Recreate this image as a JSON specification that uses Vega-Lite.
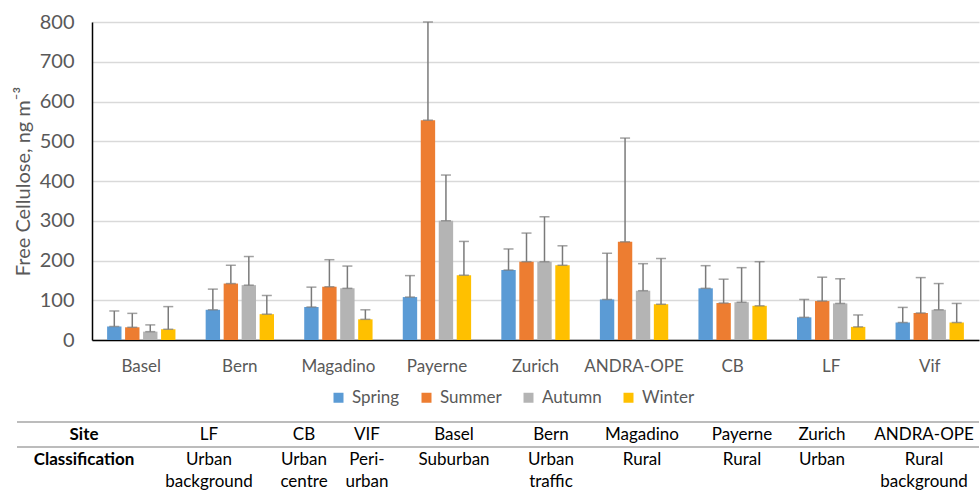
{
  "$schema": "https://vega.github.io/schema/vega-lite/v6.json",
  "padding": {"left": 13, "top": 12, "right": 0, "bottom": 0},
  "config": {
    "font": "Lato",
    "view": {"stroke": null},
    "axisY": {"labelFontSize": 20, "labelColor": "#595959", "labelPadding": 18, "ticks": false, "tickSize": 0, "domainColor": "#000000", "domainWidth": 1.5, "gridColor": "#d9d9d9", "gridWidth": 1.5, "titleFontSize": 20, "titleFontWeight": "normal", "titleColor": "#595959", "titlePadding": 6, "labelOverlap": false}
  },
  "spacing": 15,
  "resolve": {"scale": {"color": "independent"}, "legend": {"color": "independent"}},
  "vconcat": [
    {
      "width": 887,
      "height": 318,
      "data": {"values": [
        {"site": "Basel", "season": "Spring", "value": 34, "err": 73},
        {"site": "Basel", "season": "Summer", "value": 32, "err": 67},
        {"site": "Basel", "season": "Autumn", "value": 21, "err": 38},
        {"site": "Basel", "season": "Winter", "value": 27, "err": 84},
        {"site": "Bern", "season": "Spring", "value": 76, "err": 128},
        {"site": "Bern", "season": "Summer", "value": 142, "err": 188},
        {"site": "Bern", "season": "Autumn", "value": 138, "err": 210},
        {"site": "Bern", "season": "Winter", "value": 65, "err": 112},
        {"site": "Magadino", "season": "Spring", "value": 83, "err": 133},
        {"site": "Magadino", "season": "Summer", "value": 134, "err": 202},
        {"site": "Magadino", "season": "Autumn", "value": 130, "err": 186},
        {"site": "Magadino", "season": "Winter", "value": 52, "err": 76},
        {"site": "Payerne", "season": "Spring", "value": 108, "err": 162},
        {"site": "Payerne", "season": "Summer", "value": 553, "err": 800},
        {"site": "Payerne", "season": "Autumn", "value": 300, "err": 415},
        {"site": "Payerne", "season": "Winter", "value": 163, "err": 248},
        {"site": "Zurich", "season": "Spring", "value": 176, "err": 229},
        {"site": "Zurich", "season": "Summer", "value": 197, "err": 269},
        {"site": "Zurich", "season": "Autumn", "value": 197, "err": 310},
        {"site": "Zurich", "season": "Winter", "value": 188, "err": 237},
        {"site": "ANDRA-OPE", "season": "Spring", "value": 102, "err": 218},
        {"site": "ANDRA-OPE", "season": "Summer", "value": 247, "err": 508},
        {"site": "ANDRA-OPE", "season": "Autumn", "value": 124, "err": 192},
        {"site": "ANDRA-OPE", "season": "Winter", "value": 90, "err": 205},
        {"site": "CB", "season": "Spring", "value": 130, "err": 187},
        {"site": "CB", "season": "Summer", "value": 93, "err": 153},
        {"site": "CB", "season": "Autumn", "value": 95, "err": 182},
        {"site": "CB", "season": "Winter", "value": 86, "err": 197},
        {"site": "LF", "season": "Spring", "value": 57, "err": 102},
        {"site": "LF", "season": "Summer", "value": 98, "err": 158},
        {"site": "LF", "season": "Autumn", "value": 92, "err": 154},
        {"site": "LF", "season": "Winter", "value": 33, "err": 63},
        {"site": "Vif", "season": "Spring", "value": 44, "err": 82},
        {"site": "Vif", "season": "Summer", "value": 68, "err": 157},
        {"site": "Vif", "season": "Autumn", "value": 76, "err": 142},
        {"site": "Vif", "season": "Winter", "value": 44, "err": 92}
      ]},
      "encoding": {
        "x": {
          "field": "site", "type": "nominal",
          "sort": ["Basel", "Bern", "Magadino", "Payerne", "Zurich", "ANDRA-OPE", "CB", "LF", "Vif"],
          "scale": {"paddingInner": 0.27, "paddingOuter": 0.135},
          "axis": {"title": null, "labelAngle": 0, "labelFontSize": 17, "labelColor": "#595959", "labelPadding": 18, "ticks": false, "tickSize": 0, "domainColor": "#000000", "domainWidth": 1.5, "grid": false}
        },
        "xOffset": {
          "field": "season", "type": "nominal",
          "sort": ["Spring", "Summer", "Autumn", "Winter"],
          "scale": {"paddingInner": 0.2, "paddingOuter": 0.1}
        }
      },
      "layer": [
        {
          "mark": {"type": "bar"},
          "encoding": {
            "y": {
              "field": "value", "type": "quantitative",
              "title": "Free Cellulose, ng m⁻³",
              "scale": {"domain": [0, 800], "nice": false},
              "axis": {"values": [0, 100, 200, 300, 400, 500, 600, 700, 800]}
            },
            "color": {
              "field": "season", "type": "nominal",
              "sort": ["Spring", "Summer", "Autumn", "Winter"],
              "scale": {"domain": ["Spring", "Summer", "Autumn", "Winter"], "range": ["#5B9BD5", "#ED7D31", "#B4B4B4", "#FFC000"]},
              "legend": {"orient": "none", "legendX": 238, "legendY": 367, "direction": "horizontal", "title": null, "symbolType": "square", "symbolSize": 100, "symbolStrokeWidth": 0, "labelFontSize": 17, "labelColor": "#595959", "columnPadding": 18, "labelOffset": 5}
            }
          }
        },
        {
          "mark": {"type": "rule", "color": "#7a7a7a", "strokeWidth": 1.5},
          "encoding": {
            "y": {"field": "value", "type": "quantitative", "title": "Free Cellulose, ng m⁻³", "axis": {"values": [0, 100, 200, 300, 400, 500, 600, 700, 800]}},
            "y2": {"field": "err"}
          }
        },
        {
          "mark": {"type": "tick", "color": "#7a7a7a", "size": 10, "thickness": 1.5},
          "encoding": {
            "y": {"field": "err", "type": "quantitative", "title": "Free Cellulose, ng m⁻³", "axis": {"values": [0, 100, 200, 300, 400, 500, 600, 700, 800]}}
          }
        },
        {
          "mark": {"type": "tick", "color": "#7a7a7a", "size": 10, "thickness": 1.5},
          "encoding": {
            "y": {"field": "value", "type": "quantitative", "title": "Free Cellulose, ng m⁻³", "axis": {"values": [0, 100, 200, 300, 400, 500, 600, 700, 800]}}
          }
        }
      ]
    },
    {
      "width": 887,
      "height": 68,
      "layer": [
        {
          "data": {"values": [{"line": 0}, {"line": 1}]},
          "mark": {"type": "rule", "color": "#a6a6a6", "strokeWidth": 1.5},
          "encoding": {
            "x": {"datum": -1, "type": "quantitative", "scale": {"type": "linear", "domain": [-1, 0, 1, 2, 3, 4, 5, 6, 7, 8, 9, 10], "range": [-75, -8, 117, 212, 275, 362, 459, 550, 650, 730, 832, 887], "zero": false, "nice": false}, "axis": null},
            "x2": {"datum": 10},
            "y": {"field": "line", "type": "quantitative", "scale": {"domain": [0, 2.72], "reverse": true, "zero": false, "nice": false}, "axis": null}
          }
        },
        {
          "data": {"values": [
            {"col": 0, "row": 0, "label": "Site"},
            {"col": 0, "row": 1, "label": "Classification"},
            {"col": 1, "row": 0, "label": "LF"},
            {"col": 1, "row": 1, "label": "Urban\nbackground"},
            {"col": 2, "row": 0, "label": "CB"},
            {"col": 2, "row": 1, "label": "Urban\ncentre"},
            {"col": 3, "row": 0, "label": "VIF"},
            {"col": 3, "row": 1, "label": "Peri-\nurban"},
            {"col": 4, "row": 0, "label": "Basel"},
            {"col": 4, "row": 1, "label": "Suburban"},
            {"col": 5, "row": 0, "label": "Bern"},
            {"col": 5, "row": 1, "label": "Urban\ntraffic"},
            {"col": 6, "row": 0, "label": "Magadino"},
            {"col": 6, "row": 1, "label": "Rural"},
            {"col": 7, "row": 0, "label": "Payerne"},
            {"col": 7, "row": 1, "label": "Rural"},
            {"col": 8, "row": 0, "label": "Zurich"},
            {"col": 8, "row": 1, "label": "Urban"},
            {"col": 9, "row": 0, "label": "ANDRA-OPE"},
            {"col": 9, "row": 1, "label": "Rural\nbackground"}
          ]},
          "layer": [
            {
              "transform": [{"filter": "datum.col > 0"}],
              "mark": {"type": "text", "baseline": "top", "dy": 5, "fontSize": 17, "lineHeight": 22, "lineBreak": "\n", "color": "#000000"},
              "encoding": {
                "x": {"field": "col", "type": "quantitative", "axis": null},
                "y": {"field": "row", "type": "quantitative", "axis": null},
                "text": {"field": "label"}
              }
            },
            {
              "transform": [{"filter": "datum.col == 0"}],
              "mark": {"type": "text", "baseline": "top", "dy": 5, "fontSize": 17, "fontWeight": "bold", "lineHeight": 22, "color": "#000000"},
              "encoding": {
                "x": {"field": "col", "type": "quantitative", "axis": null},
                "y": {"field": "row", "type": "quantitative", "axis": null},
                "text": {"field": "label"}
              }
            }
          ]
        }
      ]
    }
  ]
}
